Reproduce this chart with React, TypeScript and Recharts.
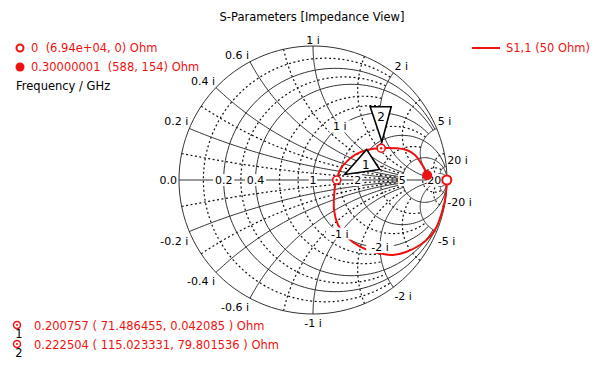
import React from "react";
import { ComposedChart, Line, Scatter, XAxis, YAxis } from "recharts";

// grid values of the Smith chart
const resistanceMajor = [0.2, 0.4, 1, 2, 5, 20];
const resistanceMinor = [0.1, 0.3, 0.6, 0.8, 1.5, 3, 10];
const reactanceMajor = [0.2, 0.4, 0.6, 1, 2, 5, 20];
const reactanceMinor = [0.1, 0.3, 0.8, 1.5, 3, 10];
const resistanceLabels = ["0.2", "0.4", "1", "2", "5", "20"];
const reactanceLabels = ["0.2 i", "0.4 i", "0.6 i", "1 i", "2 i", "5 i", "20 i"];
const innerReactance = [1, -1, -2];

// S1,1 trace, as reflection coefficient
const s11Re = [0.999, 0.996, 0.985, 0.96, 0.923, 0.873, 0.799, 0.699, 0.597, 0.522, 0.448, 0.351, 0.251, 0.187, 0.157, 0.157, 0.164, 0.177, 0.201, 0.251, 0.313, 0.401, 0.509, 0.625, 0.699, 0.761, 0.799, 0.828, 0.852];
const s11Im = [0, -0.052, -0.149, -0.246, -0.349, -0.423, -0.485, -0.535, -0.56, -0.552, -0.535, -0.498, -0.423, -0.336, -0.224, -0.125, -0.05, 0, 0.075, 0.137, 0.187, 0.224, 0.238, 0.237, 0.224, 0.187, 0.137, 0.09, 0.036];

// end points of the sweep (Ohm)
const sweepFreq = ["0", "0.30000001"];
const sweepR = [69400, 588];
const sweepX = [0, 154];
const sweepText = ["(6.94e+04, 0)", "(588, 154)"];

// markers
const markerFreq = ["0.200757", "0.222504"];
const markerR = [71.486455, 115.023331];
const markerX = [0.042085, 79.801536];
const Z0 = 50;

const RED = "#ee1111";
const FONT = "'DejaVu Sans', Verdana, sans-serif";

const X_DOMAIN: [number, number] = [-313 / 134, 287 / 134];
const Y_DOMAIN: [number, number] = [-189 / 134, 180 / 134];

const gammaOf = (r: number, x: number) => {
  const d = (r + 1) ** 2 + x * x;
  return { u: (r * r + x * x - 1) / d, v: (2 * x) / d };
};

// constant resistance circle, kept to |x| <= xmax
function rCircle(r: number, xmax: number) {
  const cu = r / (1 + r);
  const rad = 1 / (1 + r);
  let a0 = 0;
  if (isFinite(xmax)) {
    const g = gammaOf(r, xmax);
    a0 = Math.atan2(g.v, g.u - cu);
  }
  const pts = [];
  const n = 120;
  for (let i = 0; i <= n; i++) {
    const a = a0 + ((2 * Math.PI - 2 * a0) * i) / n;
    pts.push({ u: cu + rad * Math.cos(a), v: rad * Math.sin(a) });
  }
  return pts;
}

// constant reactance arc, from the rim to r = rmax
function xArc(x: number, rmax: number) {
  const cv = 1 / x;
  const rad = Math.abs(1 / x);
  const g0 = gammaOf(0, x);
  const g1 = isFinite(rmax) ? gammaOf(rmax, x) : { u: 1, v: 0 };
  const a0 = Math.atan2(g0.v - cv, g0.u - 1);
  const a1 = Math.atan2(g1.v - cv, g1.u - 1);
  let d = a1 - a0;
  while (d > Math.PI) d -= 2 * Math.PI;
  while (d < -Math.PI) d += 2 * Math.PI;
  const pts = [];
  const n = 80;
  for (let i = 0; i <= n; i++) {
    const a = a0 + (d * i) / n;
    pts.push({ u: 1 + rad * Math.cos(a), v: cv + rad * Math.sin(a) });
  }
  return pts;
}

const majorRLimit = (r: number) => (r <= 1 ? 5 : r < 5 ? 20 : Infinity);
const majorXLimit = (x: number) => (x <= 1 ? 5 : x < 20 ? 20 : Infinity);
const minorRLimit = (r: number) => (r <= 1 ? 2 : r < 10 ? 5 : 20);
const minorXLimit = (x: number) => (x <= 1 ? 5 : x < 10 ? 5 : 20);

type Grid = { key: string; pts: { u: number; v: number }[]; dotted: boolean };
const grid: Grid[] = [];
resistanceMinor.forEach((r) => grid.push({ key: "rm" + r, pts: rCircle(r, minorRLimit(r)), dotted: true }));
reactanceMinor.forEach((x) => {
  grid.push({ key: "xm" + x, pts: xArc(x, minorXLimit(x)), dotted: true });
  grid.push({ key: "xm-" + x, pts: xArc(-x, minorXLimit(x)), dotted: true });
});
resistanceMajor.forEach((r) => grid.push({ key: "r" + r, pts: rCircle(r, majorRLimit(r)), dotted: false }));
reactanceMajor.forEach((x) => {
  grid.push({ key: "x" + x, pts: xArc(x, majorXLimit(x)), dotted: false });
  grid.push({ key: "x-" + x, pts: xArc(-x, majorXLimit(x)), dotted: false });
});
grid.push({ key: "outer", pts: rCircle(0, Infinity), dotted: false });
grid.push({ key: "axis", pts: [{ u: -1, v: 0 }, { u: 1, v: 0 }], dotted: false });

const trace = s11Re.map((u, i) => ({ u, v: s11Im[i] }));

type Lbl = { u: number; v: number; text: string; anchor: string; dx: number; dy: number; bg: boolean };
const labels: Lbl[] = [];
reactanceMajor.forEach((x, i) => {
  [1, -1].forEach((s) => {
    const g = gammaOf(0, s * x);
    const anchor = g.u < -0.1 ? "end" : g.u > 0.1 ? "start" : "middle";
    labels.push({
      u: g.u,
      v: g.v,
      text: (s < 0 ? "-" : "") + reactanceLabels[i],
      anchor,
      dx: anchor === "end" ? -1 : anchor === "start" ? 1 : 0,
      dy: s > 0 ? (anchor === "middle" ? -2 : -3) : 13,
      bg: false,
    });
  });
});
resistanceMajor.forEach((r, i) => {
  labels.push({ u: (r - 1) / (r + 1), v: 0, text: resistanceLabels[i], anchor: "middle", dx: 0, dy: 4, bg: true });
});
labels.push({ u: -1, v: 0, text: "0.0", anchor: "end", dx: -2, dy: 4, bg: false });
innerReactance.forEach((x) => {
  const g = gammaOf(1, x);
  labels.push({ u: g.u, v: g.v, text: x + " i", anchor: "middle", dx: 0, dy: 4, bg: true });
});

const sweepPts = sweepR.map((r, i) => ({ ...gammaOf(r / Z0, sweepX[i] / Z0), kind: i }));
const markerPts = markerR.map((r, i) => ({ ...gammaOf(r / Z0, markerX[i] / Z0), id: i + 1 }));

const LabelShape = (props: any) => {
  const { cx, cy } = props;
  const p: Lbl = props.payload ?? props;
  const x = cx + p.dx;
  const y = cy + p.dy;
  const w = p.text.length * 6.4 + 2;
  return (
    <g>
      {p.bg && <rect x={x - w / 2} y={cy - 6} width={w} height={12} fill="#fff" />}
      <text x={x} y={y} textAnchor={p.anchor} fontSize={11} fontFamily={FONT} fill="#000">
        {p.text}
      </text>
    </g>
  );
};

const SweepShape = (props: any) => {
  const { cx, cy } = props;
  const p = props.payload ?? props;
  return p.kind === 0 ? (
    <circle cx={cx} cy={cy} r={4.5} fill="#fff" stroke={RED} strokeWidth={2} />
  ) : (
    <circle cx={cx} cy={cy} r={5} fill={RED} />
  );
};

const MarkerShape = (props: any) => {
  const { cx, cy } = props;
  const p = props.payload ?? props;
  if (p.id === 1) {
    return (
      <g>
        <polygon
          points={`${cx + 30},${cy - 30.5} ${cx + 8},${cy - 5.5} ${cx + 43},${cy - 10.5}`}
          fill="#fff"
          stroke="#000"
          strokeWidth={1.6}
        />
        <text x={cx + 29} y={cy - 11} textAnchor="middle" fontSize={12} fontFamily={FONT}>1</text>
        <circle cx={cx} cy={cy} r={4} fill="#fff" stroke={RED} strokeWidth={1.6} />
        <circle cx={cx} cy={cy} r={1.2} fill={RED} />
      </g>
    );
  }
  return (
    <g>
      <line x1={cx + 0.7} y1={cy - 6.5} x2={cx - 1.5} y2={cy - 3} stroke="#000" strokeWidth={1} />
      <polygon
        points={`${cx - 11},${cy - 41.5} ${cx + 10},${cy - 41.5} ${cx + 0.7},${cy - 6.5}`}
        fill="#fff"
        stroke="#000"
        strokeWidth={1.6}
      />
      <text x={cx} y={cy - 27} textAnchor="middle" fontSize={12} fontFamily={FONT}>2</text>
      <circle cx={cx} cy={cy} r={4} fill="#fff" stroke={RED} strokeWidth={1.6} />
      <circle cx={cx} cy={cy} r={1.2} fill={RED} />
    </g>
  );
};

export default function App() {
  const t = { fontFamily: FONT, fontSize: 11.5 } as const;
  return (
    <div style={{ position: "absolute", left: 0, top: 0, width: 600, height: 369, background: "#fff" }}>
      <ComposedChart width={600} height={369} margin={{ top: 0, right: 0, bottom: 0, left: 0 }}>
        <XAxis type="number" dataKey="u" domain={X_DOMAIN} hide allowDataOverflow />
        <YAxis type="number" dataKey="v" domain={Y_DOMAIN} hide allowDataOverflow />
        {grid.map((g) => (
          <Line
            key={g.key}
            data={g.pts}
            dataKey="v"
            type="linear"
            stroke={g.dotted ? "#111" : "#333"}
            strokeWidth={g.dotted ? 1.2 : 1}
            strokeDasharray={g.dotted ? "2 2.5" : undefined}
            dot={false}
            activeDot={false}
            isAnimationActive={false}
          />
        ))}
        <Scatter data={labels} dataKey="v" shape={LabelShape} isAnimationActive={false} />
        <Line
          data={trace}
          dataKey="v"
          type="natural"
          stroke={RED}
          strokeWidth={2}
          dot={false}
          activeDot={false}
          isAnimationActive={false}
        />
        <Scatter data={sweepPts} dataKey="v" shape={SweepShape} isAnimationActive={false} />
        <Scatter data={markerPts} dataKey="v" shape={MarkerShape} isAnimationActive={false} />
      </ComposedChart>
      <svg width={600} height={369} style={{ position: "absolute", left: 0, top: 0, pointerEvents: "none" }}>
        <text x={312} y={21} textAnchor="middle" fill="#000" {...t}>S-Parameters [Impedance View]</text>
        <circle cx={20} cy={48} r={3.5} fill="#fff" stroke={RED} strokeWidth={2} />
        <text x={31} y={52} fill={RED} style={{ whiteSpace: "pre" }} {...t}>
          {`${sweepFreq[0]}  ${sweepText[0]} Ohm`}
        </text>
        <circle cx={20} cy={67} r={4.5} fill={RED} />
        <text x={31} y={71} fill={RED} style={{ whiteSpace: "pre" }} {...t}>
          {`${sweepFreq[1]}  ${sweepText[1]} Ohm`}
        </text>
        <text x={16} y={90} fill="#000" {...t}>Frequency / GHz</text>
        <line x1={472} y1={48} x2={500} y2={48} stroke={RED} strokeWidth={2} />
        <text x={506} y={52} fill={RED} {...t}>S1,1 (50 Ohm)</text>
        {markerFreq.map((f, i) => {
          const y = 326 + i * 19;
          return (
            <g key={f}>
              <circle cx={17} cy={y - 1} r={3.5} fill="#fff" stroke={RED} strokeWidth={1.5} />
              <circle cx={17} cy={y - 1} r={1} fill={RED} />
              <text x={19} y={y + 12} textAnchor="middle" fill="#000" {...t}>{i + 1}</text>
              <text x={34} y={y + 4} fill={RED} {...t}>
                {`${f} ( ${markerR[i].toFixed(6)}, ${markerX[i].toFixed(6)} ) Ohm`}
              </text>
            </g>
          );
        })}
      </svg>
    </div>
  );
}
